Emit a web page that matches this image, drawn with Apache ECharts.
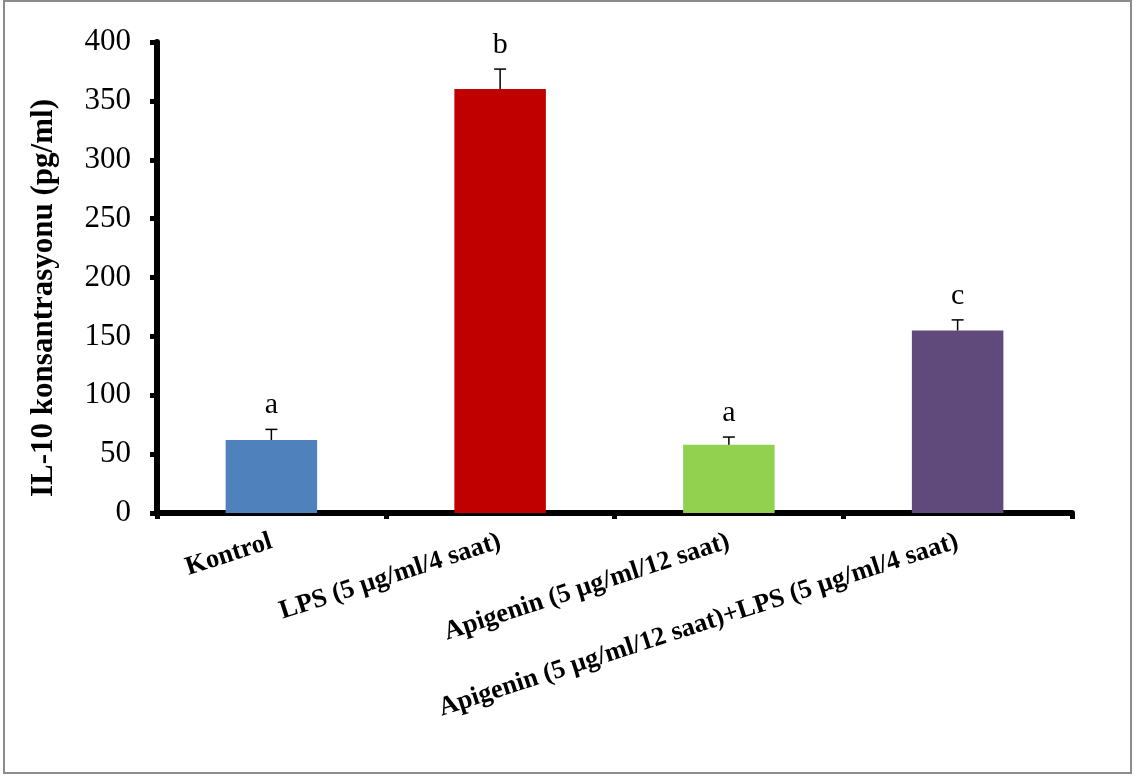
<!DOCTYPE html>
<html>
<head>
<meta charset="utf-8">
<script src="https://cdn.jsdelivr.net/npm/echarts@6/dist/echarts.min.js"></script>
<style>
  html, body { margin: 0; padding: 0; background: #fff; }
  #chart { width: 1136px; height: 777px; }
</style>
</head>
<body>
<div id="chart"></div>
<script>
// IL-10 concentration per treatment group (mean, SD) with significance letters
var categories = [
  'Kontrol',
  'LPS (5 µg/ml/4 saat)',
  'Apigenin (5 µg/ml/12 saat)',
  'Apigenin (5 µg/ml/12 saat)+LPS (5 µg/ml/4 saat)'
];
var means = [62, 360, 58, 155];
var errors = [9, 17, 6.5, 9];
var letters = ['a', 'b', 'a', 'c'];
var barColors = ['#4F81BD', '#C00000', '#92D050', '#604A7B'];
var yTicks = [0, 50, 100, 150, 200, 250, 300, 350, 400];

var serif = '"Liberation Serif", "Times New Roman", serif';

var chart = echarts.init(document.getElementById('chart'), null, { renderer: 'canvas' });

var barData = means.map(function (v, i) {
  return { value: v, itemStyle: { color: barColors[i] } };
});
var errData = means.map(function (v, i) {
  return [i, v, v + errors[i], letters[i]];
});

chart.setOption({
  animation: false,
  backgroundColor: '#fff',
  grid: { left: 157, right: 64, top: 42, bottom: 264, containLabel: false },
  graphic: [
    {
      type: 'rect',
      shape: { x: 4, y: 1, width: 1127, height: 772 },
      style: { fill: 'none', stroke: '#8c8c8c', lineWidth: 2 },
      silent: true
    },
    {
      type: 'text',
      x: 44,
      y: 298,
      rotation: Math.PI / 2,
      style: {
        text: 'IL-10 konsantrasyonu (pg/ml)',
        font: 'bold 31px ' + serif,
        fill: '#000',
        align: 'center',
        verticalAlign: 'middle'
      }
    }
  ],
  xAxis: {
    type: 'category',
    data: categories,
    boundaryGap: true,
    axisLine: { show: true, lineStyle: { color: '#000', width: 6 } },
    axisTick: { show: true, length: 6, lineStyle: { color: '#000', width: 5 } },
    axisLabel: {
      rotate: 18,
      margin: 28,
      interval: 0,
      color: '#000',
      fontFamily: serif,
      fontWeight: 'bold',
      fontSize: 26.5
    },
    splitLine: { show: false }
  },
  yAxis: {
    type: 'value',
    min: yTicks[0],
    max: yTicks[yTicks.length - 1],
    interval: 50,
    axisLine: { show: true, lineStyle: { color: '#000', width: 6 } },
    axisTick: { show: true, length: 7, lineStyle: { color: '#000', width: 5 } },
    axisLabel: {
      margin: 26,
      color: '#000',
      fontFamily: serif,
      fontSize: 31
    },
    splitLine: { show: false }
  },
  series: [
    {
      type: 'bar',
      data: barData,
      barWidth: '40%',
      z: 2
    },
    {
      type: 'custom',
      z: 3,
      data: errData,
      encode: { x: 0, y: [1, 2] },
      renderItem: function (params, api) {
        var x = api.value(0);
        var base = api.coord([x, api.value(1)]);
        var top = api.coord([x, api.value(2)]);
        var cap = 6;
        return {
          type: 'group',
          children: [
            {
              type: 'line',
              shape: { x1: base[0], y1: base[1], x2: top[0], y2: top[1] },
              style: { stroke: '#000', lineWidth: 1.5 }
            },
            {
              type: 'line',
              shape: { x1: top[0] - cap, y1: top[1], x2: top[0] + cap, y2: top[1] },
              style: { stroke: '#000', lineWidth: 1.5 }
            },
            {
              type: 'text',
              x: top[0],
              y: top[1] - 24,
              style: {
                text: api.value(3),
                font: '30px ' + serif,
                fill: '#000',
                align: 'center',
                verticalAlign: 'middle'
              }
            }
          ]
        };
      }
    }
  ]
});
</script>
</body>
</html>
